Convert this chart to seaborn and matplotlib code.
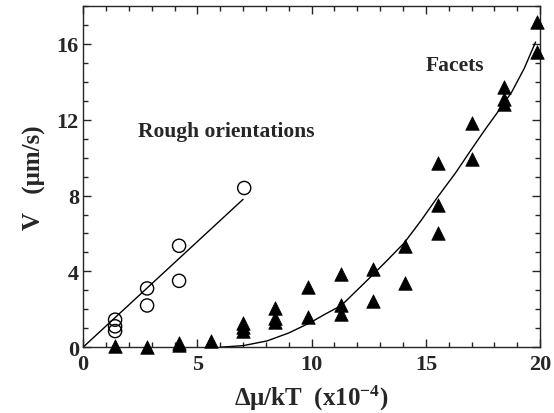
import matplotlib
matplotlib.use("Agg")
import matplotlib.pyplot as plt
from matplotlib.ticker import MultipleLocator
import seaborn as sns
import pandas as pd

# -------------------------------
# Rough orientations (open circles)
rough_x = [1.4, 1.4, 1.4, 2.8, 2.8, 4.2, 4.2, 7.05]
rough_y = [0.85, 1.1, 1.45, 3.1, 2.2, 5.35, 3.5, 8.4]
rough_fit_x = [0.0, 7.0]
rough_fit_y = [0.0, 7.8]

# Facets (filled triangles)
facet_x = [1.4, 2.8, 4.2, 4.2, 5.6, 7.0, 7.0, 7.0, 8.4, 8.4, 8.4,
           9.85, 9.85, 11.3, 11.3, 11.3, 12.7, 12.7, 14.1, 14.1,
           15.55, 15.55, 15.55, 17.0, 17.0, 18.4, 18.4, 18.4, 19.85, 19.85]
facet_y = [0.05, 0.0, 0.1, 0.2, 0.35, 0.85, 1.05, 1.25, 1.35, 1.55, 2.05,
           1.6, 3.15, 1.75, 2.2, 3.85, 2.45, 4.1, 3.4, 5.35,
           6.0, 7.5, 9.7, 9.95, 11.85, 12.85, 13.1, 13.75, 15.55, 17.15]
facet_fit_x = [6.0, 7.0, 8.05, 9.0, 9.95, 10.6, 11.3, 12.45, 13.2, 14.05,
               14.8, 15.5, 16.3, 17.0, 17.6, 18.2, 18.75, 19.3, 19.8]
facet_fit_y = [0.0, 0.08, 0.33, 0.75, 1.3, 1.75, 2.2, 3.55, 4.45, 5.5,
               6.7, 7.9, 9.2, 10.45, 11.5, 12.5, 13.45, 14.7, 16.1]

rough_df = pd.DataFrame({"x": rough_x, "y": rough_y})
facet_df = pd.DataFrame({"x": facet_x, "y": facet_y})

# -------------------------------
sns.set_style("ticks")
plt.rcParams["font.family"] = ["Liberation Serif", "DejaVu Serif"]
plt.rcParams["font.weight"] = "bold"
plt.rcParams["mathtext.fontset"] = "custom"
plt.rcParams["mathtext.rm"] = "Liberation Serif:bold"
plt.rcParams["mathtext.default"] = "rm"

fig = plt.figure(figsize=(5.54, 4.14), dpi=100)
ax = fig.add_axes([0.150, 0.159, 0.825, 0.824])

ax.plot(rough_fit_x, rough_fit_y, color="black", lw=1.0)
ax.plot(facet_fit_x, facet_fit_y, color="black", lw=1.0)

sns.scatterplot(data=rough_df, x="x", y="y", ax=ax, marker="o", s=90,
                facecolors="none", edgecolor="black", linewidth=1.0,
                clip_on=False, zorder=3)
sns.scatterplot(data=facet_df, x="x", y="y", ax=ax, marker="^", s=95,
                color="black", edgecolor="black", linewidth=0.5,
                clip_on=False, zorder=3)

ax.set_xlim(0, 20)
ax.set_ylim(0, 18)
ax.xaxis.set_major_locator(MultipleLocator(5))
ax.xaxis.set_minor_locator(MultipleLocator(1))
ax.yaxis.set_major_locator(MultipleLocator(4))
ax.yaxis.set_minor_locator(MultipleLocator(1))
ax.tick_params(which="both", direction="in", top=True, right=True,
               width=1.0, labelsize=16)
ax.tick_params(which="major", length=6)
ax.tick_params(which="minor", length=3.5)
ax.tick_params(axis="x", pad=5)
ax.tick_params(axis="y", pad=3)
for sp in ax.spines.values():
    sp.set_linewidth(1.0)
    sp.set_visible(True)

ax.set_xlabel("Δμ/kT  (x10$^{-4}$)", fontsize=18, fontweight="bold", labelpad=6)
ax.set_ylabel("V   (μm/s)", fontsize=18, fontweight="bold", labelpad=8)

ax.text(2.4, 11.15, "Rough orientations", fontsize=15.5, fontweight="bold")
ax.text(15.0, 14.6, "Facets", fontsize=15.5, fontweight="bold")

fig.savefig("out.png", dpi=100)
